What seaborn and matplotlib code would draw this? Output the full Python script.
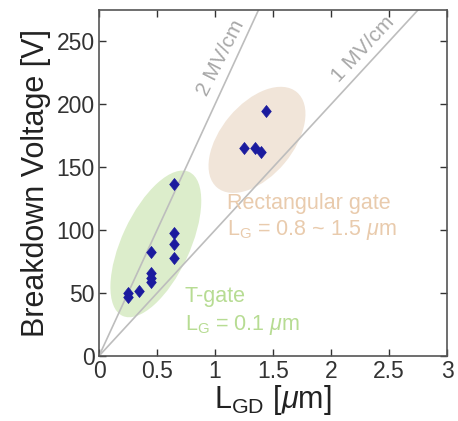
import numpy as np
import pandas as pd
import matplotlib.pyplot as plt
import seaborn as sns
from matplotlib.patches import Ellipse
from matplotlib.path import Path
from matplotlib.transforms import Affine2D

# measured devices
lgd_um = [0.247, 0.247, 0.347, 0.448, 0.448, 0.448, 0.448,
          0.649, 0.649, 0.649, 0.649, 1.253, 1.345, 1.397, 1.437]
vbr_v = [50, 47, 52, 83, 66, 62, 59,
         137, 98, 89, 78, 165, 165, 162, 195]

# constant-field guide lines
fields_mv_cm = [2, 1]
field_labels = ['2 MV/cm', '1 MV/cm']

sns.set_style('ticks')
plt.rcParams['font.family'] = ['Liberation Sans', 'DejaVu Sans']
plt.rcParams['mathtext.fontset'] = 'custom'
plt.rcParams['mathtext.rm'] = 'Liberation Sans'
plt.rcParams['mathtext.it'] = 'Liberation Sans:italic'

fig = plt.figure(figsize=(4.58, 4.21), dpi=100)
ax = fig.add_axes([99 / 458, 1 - 356 / 421, 348 / 458, 346 / 421])
ax.set_xlim(0, 3)
ax.set_ylim(0, 275)

# highlight regions, drawn in a square-pixel frame
sq = Affine2D().scale(1, 92.6) + ax.transData
ax.add_patch(Ellipse((0.49, 0.962), 1.362, 0.586, angle=65,
                     facecolor='#dcedcb', edgecolor='none', zorder=0.5, transform=sq))
ax.add_patch(Ellipse((1.362, 1.855), 1.069, 0.621, angle=50,
                     facecolor='#f1e5d9', edgecolor='none', zorder=0.5, transform=sq))

xs = np.array([0, 3])
for f in fields_mv_cm:
    # 1 MV/cm = 100 V per um
    sns.lineplot(x=xs, y=f * 100 * xs, ax=ax, color='#bdbdbd', lw=1.2, zorder=1)

ax.text(1.05, 237, field_labels[0], rotation=63, color='#a8a8a8', fontsize=15,
        ha='center', va='center')
ax.text(2.275, 244, field_labels[1], rotation=47, color='#a8a8a8', fontsize=15,
        ha='center', va='center')

diamond = Path([(0, 1), (0.8, 0), (0, -1), (-0.8, 0), (0, 1)],
               [Path.MOVETO, Path.LINETO, Path.LINETO, Path.LINETO, Path.CLOSEPOLY])
df = pd.DataFrame({'lgd': lgd_um, 'vbr': vbr_v})
sns.scatterplot(data=df, x='lgd', y='vbr', ax=ax, marker=diamond, s=75,
                color='#1b1b9e', edgecolor='#1b1b9e', linewidth=0.5, zorder=3)

ax.text(1.10, 117, 'Rectangular gate', color='#e9cbad', fontsize=15.5)
ax.text(1.10, 96, r'L$_\mathregular{G}$ = 0.8 ~ 1.5 $\mu$m', color='#e9cbad', fontsize=15.5)
ax.text(0.74, 43, 'T-gate', color='#b7dc93', fontsize=15.5)
ax.text(0.74, 21, r'L$_\mathregular{G}$ = 0.1 $\mu$m', color='#b7dc93', fontsize=15.5)

ax.set_xticks([0, 0.5, 1, 1.5, 2, 2.5, 3])
ax.set_xticklabels(['0', '0.5', '1', '1.5', '2', '2.5', '3'])
ax.set_yticks([0, 50, 100, 150, 200, 250])
ax.tick_params(direction='in', length=5, width=1, top=True, right=True,
               labelsize=16.5, colors='#333333', pad=3)
for s in ax.spines.values():
    s.set_color('#555555')
    s.set_linewidth(1.2)

ax.set_xlabel(r'L$_\mathregular{GD}$ [$\mu$m]', fontsize=22, color='#222222', labelpad=0)
ax.set_ylabel('Breakdown Voltage [V]', fontsize=22, color='#222222', labelpad=4)

plt.savefig('out.png', dpi=100)
